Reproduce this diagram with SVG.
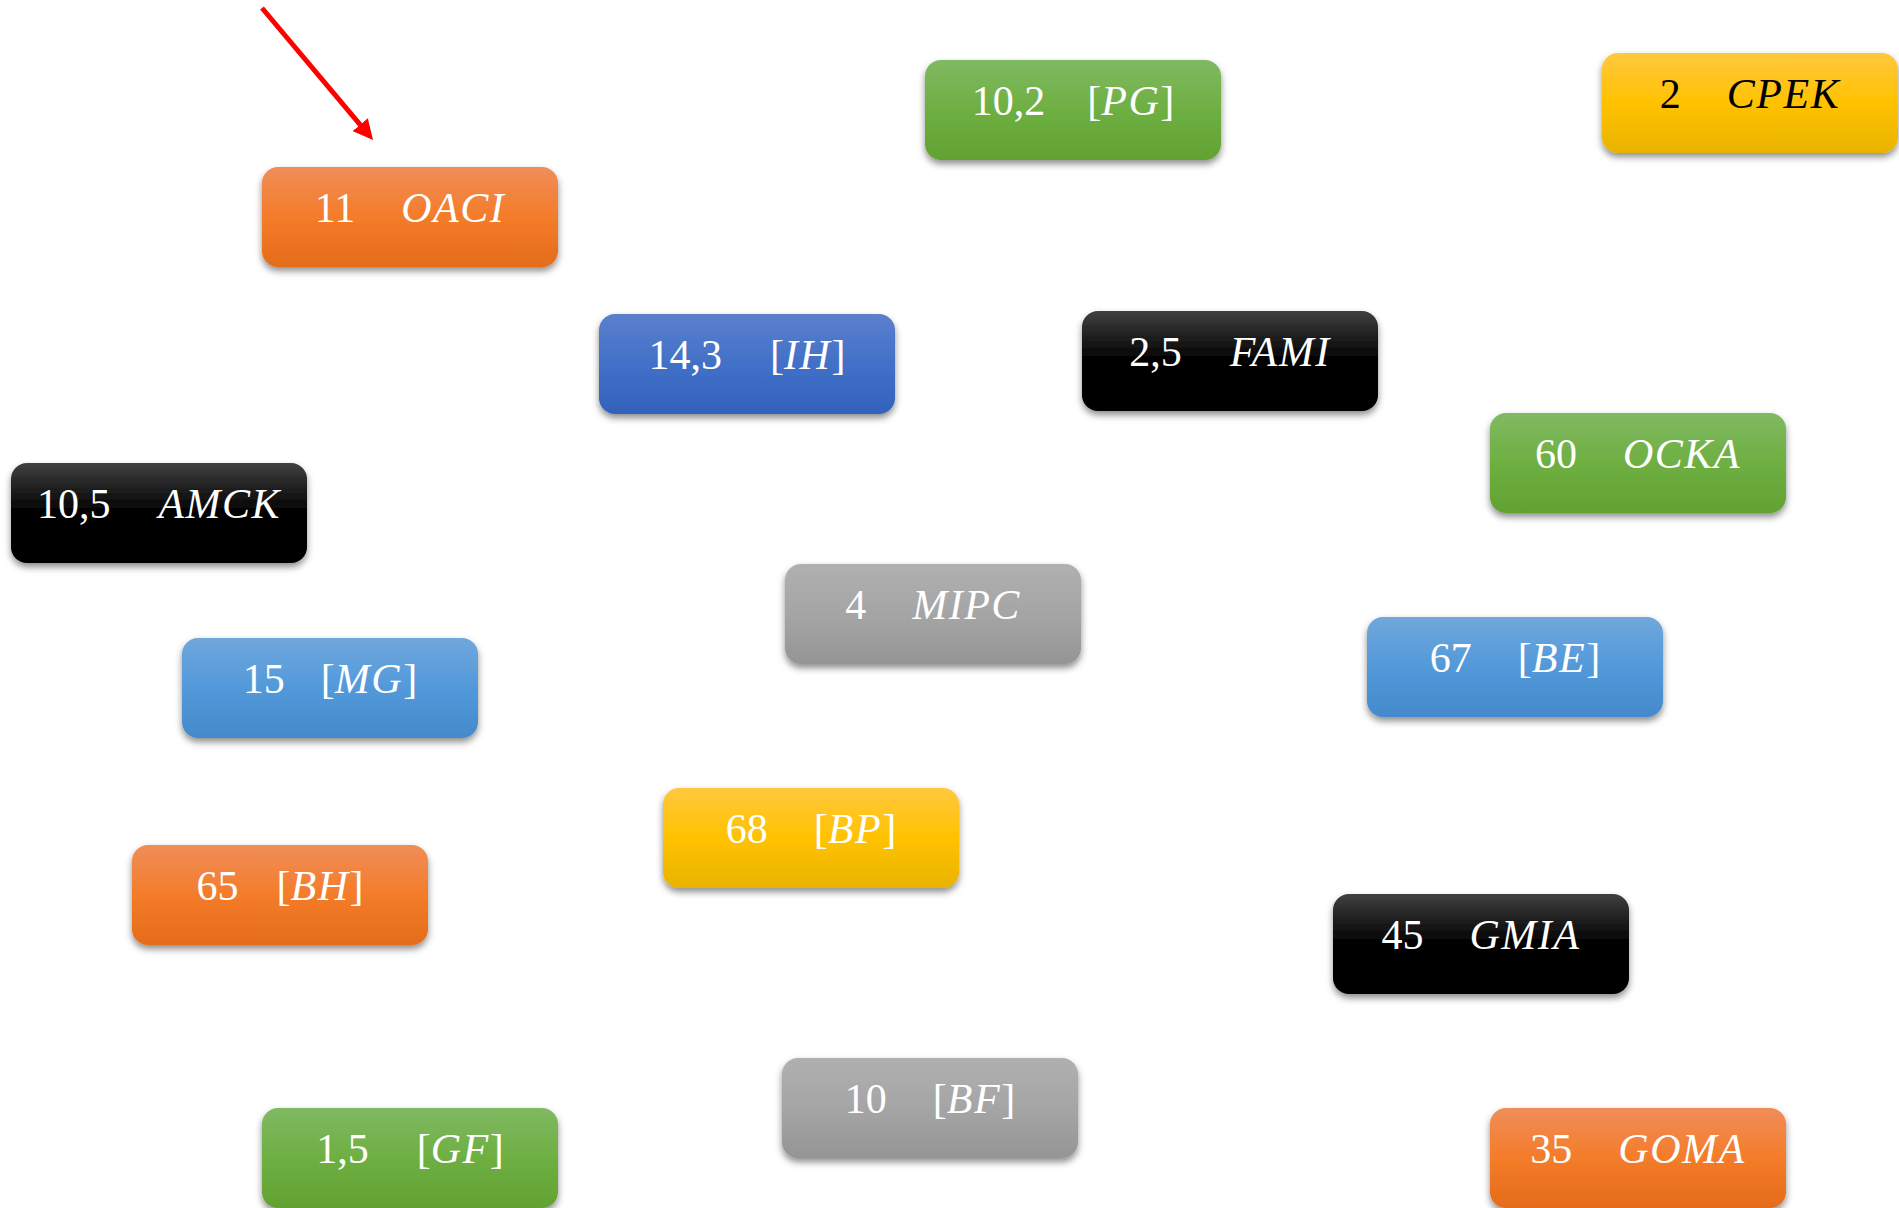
<svg xmlns="http://www.w3.org/2000/svg" width="1899" height="1208" viewBox="0 0 1899 1208">
<style>
.box{filter:url(#sh)}
.t{font-family:"Liberation Serif","Times New Roman",serif;font-size:42px;fill:#fff;text-anchor:middle}
.t .i{font-style:italic;letter-spacing:1.5px}
.dark{fill:#000}
</style>
<defs>
<filter id="sh" x="-10%" y="-20%" width="120%" height="150%">
<feDropShadow dx="0" dy="4" stdDeviation="3.5" flood-color="#000" flood-opacity="0.45"/>
</filter>
<linearGradient id="gOr" x1="0" y1="0" x2="0" y2="1"><stop offset="0" stop-color="#f08d59"/><stop offset="0.5" stop-color="#f47c2a"/><stop offset="1" stop-color="#e46c19"/></linearGradient>
<linearGradient id="gGr" x1="0" y1="0" x2="0" y2="1"><stop offset="0" stop-color="#80b962"/><stop offset="0.5" stop-color="#6eaf42"/><stop offset="1" stop-color="#62a232"/></linearGradient>
<linearGradient id="gYe" x1="0" y1="0" x2="0" y2="1"><stop offset="0" stop-color="#ffc83e"/><stop offset="0.5" stop-color="#ffc200"/><stop offset="1" stop-color="#e8b300"/></linearGradient>
<linearGradient id="gBk" x1="0" y1="0" x2="0" y2="1"><stop offset="0" stop-color="#404040"/><stop offset="0.5" stop-color="#000"/><stop offset="1" stop-color="#000"/></linearGradient>
<linearGradient id="gGy" x1="0" y1="0" x2="0" y2="1"><stop offset="0" stop-color="#b0b0b0"/><stop offset="0.5" stop-color="#a5a5a5"/><stop offset="1" stop-color="#959595"/></linearGradient>
<linearGradient id="gBd" x1="0" y1="0" x2="0" y2="1"><stop offset="0" stop-color="#5b80cc"/><stop offset="0.5" stop-color="#4270c8"/><stop offset="1" stop-color="#3262bb"/></linearGradient>
<linearGradient id="gBl" x1="0" y1="0" x2="0" y2="1"><stop offset="0" stop-color="#70a7dc"/><stop offset="0.5" stop-color="#5299da"/><stop offset="1" stop-color="#448acb"/></linearGradient>
<marker id="ah" viewBox="0 0 10 10" refX="5" refY="5" markerWidth="4" markerHeight="4" orient="auto" markerUnits="strokeWidth"><path d="M0,0 L10,5 L0,10 z" fill="#ff0000"/></marker>
</defs>
<rect width="1899" height="1208" fill="#fff"/>

<g id="connectors">
<line x1="262" y1="8" x2="366.6" y2="132.3" stroke="#ff0000" stroke-width="5" marker-end="url(#ah)"/>
</g>

<g id="n-oaci"><rect class="box" x="262" y="167" width="296" height="100" rx="16" fill="url(#gOr)"/><text class="t" x="410" y="222"><tspan>11</tspan><tspan class="i" dx="46">OACI</tspan></text></g>
<g id="n-pg"><rect class="box" x="925" y="60" width="296" height="100" rx="16" fill="url(#gGr)"/><text class="t" x="1073" y="115"><tspan>10,2</tspan><tspan dx="42">[</tspan><tspan class="i">PG</tspan><tspan>]</tspan></text></g>
<g id="n-cpek"><rect class="box" x="1602" y="53" width="296" height="100" rx="16" fill="url(#gYe)"/><text class="t dark" x="1750" y="108"><tspan>2</tspan><tspan class="i" dx="46">CPEK</tspan></text></g>
<g id="n-ih"><rect class="box" x="599" y="314" width="296" height="100" rx="16" fill="url(#gBd)"/><text class="t" x="747" y="369"><tspan>14,3</tspan><tspan dx="48">[</tspan><tspan class="i">IH</tspan><tspan>]</tspan></text></g>
<g id="n-fami"><rect class="box" x="1082" y="311" width="296" height="100" rx="16" fill="url(#gBk)"/><text class="t" x="1230" y="366"><tspan>2,5</tspan><tspan class="i" dx="48">FAMI</tspan></text></g>
<g id="n-ocka"><rect class="box" x="1490" y="413" width="296" height="100" rx="16" fill="url(#gGr)"/><text class="t" x="1638" y="468"><tspan>60</tspan><tspan class="i" dx="46">OCKA</tspan></text></g>
<g id="n-amck"><rect class="box" x="11" y="463" width="296" height="100" rx="16" fill="url(#gBk)"/><text class="t" x="159" y="518"><tspan>10,5</tspan><tspan class="i" dx="48">AMCK</tspan></text></g>
<g id="n-mipc"><rect class="box" x="785" y="564" width="296" height="100" rx="16" fill="url(#gGy)"/><text class="t" x="933" y="619"><tspan>4</tspan><tspan class="i" dx="46">MIPC</tspan></text></g>
<g id="n-mg"><rect class="box" x="182" y="638" width="296" height="100" rx="16" fill="url(#gBl)"/><text class="t" x="330" y="693"><tspan>15</tspan><tspan dx="36">[</tspan><tspan class="i">MG</tspan><tspan>]</tspan></text></g>
<g id="n-be"><rect class="box" x="1367" y="617" width="296" height="100" rx="16" fill="url(#gBl)"/><text class="t" x="1515" y="672"><tspan>67</tspan><tspan dx="46">[</tspan><tspan class="i">BE</tspan><tspan>]</tspan></text></g>
<g id="n-bp"><rect class="box" x="663" y="788" width="296" height="100" rx="16" fill="url(#gYe)"/><text class="t" x="811" y="843"><tspan>68</tspan><tspan dx="46">[</tspan><tspan class="i">BP</tspan><tspan>]</tspan></text></g>
<g id="n-bh"><rect class="box" x="132" y="845" width="296" height="100" rx="16" fill="url(#gOr)"/><text class="t" x="280" y="900"><tspan>65</tspan><tspan dx="38">[</tspan><tspan class="i">BH</tspan><tspan>]</tspan></text></g>
<g id="n-gmia"><rect class="box" x="1333" y="894" width="296" height="100" rx="16" fill="url(#gBk)"/><text class="t" x="1481" y="949"><tspan>45</tspan><tspan class="i" dx="46">GMIA</tspan></text></g>
<g id="n-bf"><rect class="box" x="782" y="1058" width="296" height="100" rx="16" fill="url(#gGy)"/><text class="t" x="930" y="1113"><tspan>10</tspan><tspan dx="46">[</tspan><tspan class="i">BF</tspan><tspan>]</tspan></text></g>
<g id="n-gf"><rect class="box" x="262" y="1108" width="296" height="100" rx="16" fill="url(#gGr)"/><text class="t" x="410" y="1163"><tspan>1,5</tspan><tspan dx="48">[</tspan><tspan class="i">GF</tspan><tspan>]</tspan></text></g>
<g id="n-goma"><rect class="box" x="1490" y="1108" width="296" height="100" rx="16" fill="url(#gOr)"/><text class="t" x="1638" y="1163"><tspan>35</tspan><tspan class="i" dx="46">GOMA</tspan></text></g>
</svg>
